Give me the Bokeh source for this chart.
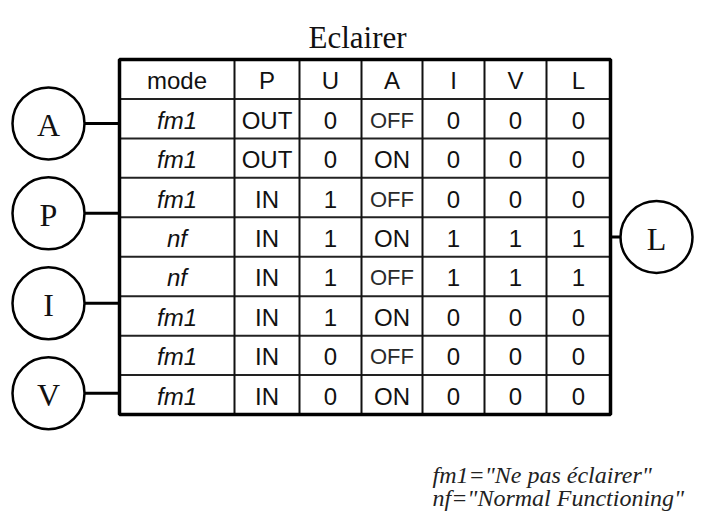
from bokeh.plotting import figure
from bokeh.models import Range1d, ColumnDataSource
from bokeh.core.properties import value
from bokeh.embed import file_html
from bokeh.resources import INLINE

# ---- data ----
title = "Eclairer"
headers = ["mode", "P", "U", "A", "I", "V", "L"]
mode = ["fm1", "fm1", "fm1", "nf", "nf", "fm1", "fm1", "fm1"]
col_P = ["OUT", "OUT", "IN", "IN", "IN", "IN", "IN", "IN"]
col_U = ["0", "0", "1", "1", "1", "1", "0", "0"]
col_A = ["OFF", "ON", "OFF", "ON", "OFF", "ON", "OFF", "ON"]
col_I = ["0", "0", "0", "1", "1", "0", "0", "0"]
col_V = ["0", "0", "0", "1", "1", "0", "0", "0"]
col_L = ["0", "0", "0", "1", "1", "0", "0", "0"]
inputs = ["A", "P", "I", "V"]
outputs = ["L"]
notes = ['fm1="Ne pas éclairer"', 'nf="Normal Functioning"']

# ---- layout (picture-pixel coordinates) ----
W, H = 695, 511
col_edges = [119, 234, 299, 361, 422, 484, 546, 610]
table_top = 59
row_h = 39.45
n_rows = len(mode) + 1
table_bottom = table_top + row_h * n_rows
R = 36
left_cx = 48
in_first, in_step = 1.62, 2.28   # in row units from table top
out_row = 4.5
right_cx = 656

p = figure(width=W, height=H, output_backend="svg", toolbar_location=None,
           x_range=Range1d(0, W), y_range=Range1d(H, 0),
           min_border=0)
p.axis.visible = False
p.grid.visible = False
p.outline_line_color = None
p.background_fill_color = "white"
p.border_fill_color = "white"

# title
p.text(x=[357], y=[37], text=[title],
       text_font=value("Liberation Serif"), text_font_size="31px",
       text_align="center", text_baseline="alphabetic", text_color="#111111")

# grid lines
hy = [table_top + r * row_h for r in range(1, n_rows)]
p.segment(x0=[col_edges[0]] * len(hy), x1=[col_edges[-1]] * len(hy), y0=hy, y1=hy,
          line_color="#222222", line_width=2)
vx = col_edges[1:-1]
p.segment(x0=vx, x1=vx, y0=[table_top] * len(vx), y1=[table_bottom] * len(vx),
          line_color="#111111", line_width=2)
# outer border
p.quad(left=[col_edges[0]], right=[col_edges[-1]], top=[table_top], bottom=[table_bottom],
       fill_color=None, line_color="black", line_width=3.5)

# cell texts
columns = [mode, col_P, col_U, col_A, col_I, col_V, col_L]
centers_x = [(col_edges[i] + col_edges[i + 1]) / 2 for i in range(len(headers))]
hy_c = [table_top + row_h / 2 + 1] * len(headers)
p.text(x=centers_x, y=hy_c, text=headers, text_font=value("Liberation Sans"),
       text_font_size="24px", text_align="center", text_baseline="middle", text_color="#111111")

def cells(cond):
    xs, ys, ts = [], [], []
    for ci, col in enumerate(columns):
        for ri, v in enumerate(col):
            if cond(ci, v):
                xs.append(centers_x[ci])
                ys.append(table_top + row_h * (ri + 1.5) + 1.5)
                ts.append(v)
    return dict(x=xs, y=ys, t=ts)

src_mode = ColumnDataSource(cells(lambda ci, v: ci == 0))
p.text(x="x", y="y", text="t", source=src_mode, text_font=value("Liberation Sans"),
       text_font_style="italic", text_font_size="24px", text_align="center",
       text_baseline="middle", text_color="#111111")
src_off = ColumnDataSource(cells(lambda ci, v: ci > 0 and v == "OFF"))
p.text(x="x", y="y", text="t", source=src_off, text_font=value("Liberation Sans"),
       text_font_size="22px", text_align="center", text_baseline="middle", text_color="#2a2a2a")
src_rest = ColumnDataSource(cells(lambda ci, v: ci > 0 and v != "OFF"))
p.text(x="x", y="y", text="t", source=src_rest, text_font=value("Liberation Sans"),
       text_font_size="24px", text_align="center", text_baseline="middle", text_color="#111111")

# input circles (left)
in_y = [table_top + row_h * (in_first + in_step * i) for i in range(len(inputs))]
p.segment(x0=[left_cx + R] * len(inputs), x1=[col_edges[0]] * len(inputs), y0=in_y, y1=in_y,
          line_color="black", line_width=3)
p.circle(x=[left_cx] * len(inputs), y=in_y, radius=R, fill_color="white",
         line_color="black", line_width=2.5)
p.text(x=[left_cx] * len(inputs), y=[y + 2 for y in in_y], text=inputs,
       text_font=value("Liberation Serif"), text_font_size="32px",
       text_align="center", text_baseline="middle", text_color="#111111")

# output circle (right)
out_y = [table_top + row_h * out_row]
p.segment(x0=[col_edges[-1]], x1=[right_cx - R], y0=out_y, y1=out_y,
          line_color="black", line_width=3)
p.circle(x=[right_cx], y=out_y, radius=R, fill_color="white",
         line_color="black", line_width=2.5)
p.text(x=[right_cx], y=[out_y[0] + 2], text=outputs,
       text_font=value("Liberation Serif"), text_font_size="32px",
       text_align="center", text_baseline="middle", text_color="#111111")

# footnote
p.text(x=[432, 432], y=[474, 497], text=notes, text_font=value("Liberation Serif"),
       text_font_style="italic", text_font_size="24px", text_align="left",
       text_baseline="alphabetic", text_color="#222222")

open("out.html", "w").write(file_html(p, INLINE))
